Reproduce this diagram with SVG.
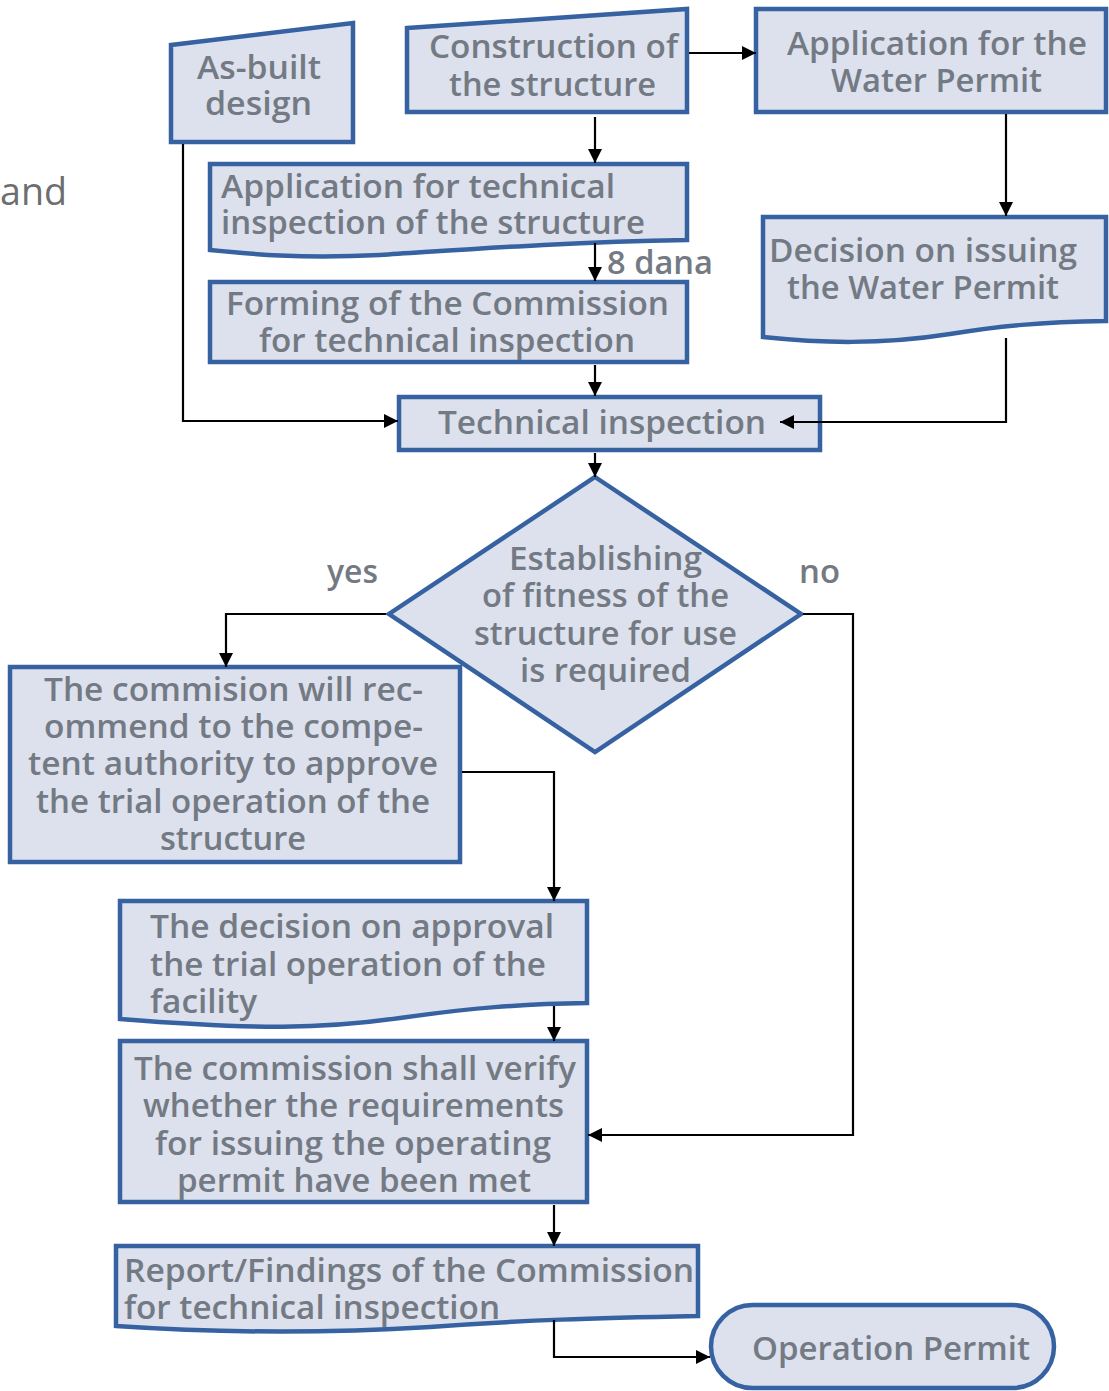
<svg xmlns="http://www.w3.org/2000/svg" width="1109" height="1391" viewBox="0 0 1109 1391">
<defs>
<style>
.n{fill:#dce1ed;stroke:#3662a1;stroke-width:4.5}
.t{font-family:"Open Sans","Liberation Sans",sans-serif;font-weight:600;font-size:33px;fill:#737a83}
.c{fill:none;stroke:#000;stroke-width:2.2}
</style>
<marker id="a" viewBox="0 0 14 14" refX="14" refY="7" markerWidth="14" markerHeight="14" markerUnits="userSpaceOnUse" orient="auto"><path d="M0,0 L14,7 L0,14 z" fill="#000"/></marker>
</defs>
<rect width="1109" height="1391" fill="#fff"/>
<text x="0" y="205" class="t" style="font-weight:400;font-size:38px;fill:#6d6e71" textLength="67" lengthAdjust="spacingAndGlyphs">and</text>
<g id="as-built">
<path class="n" d="M171,45 L353,23 V142 H171 Z"/>
<text x="197" y="79" class="t" textLength="124" lengthAdjust="spacingAndGlyphs">As-built</text>
<text x="205" y="115" class="t" textLength="107" lengthAdjust="spacingAndGlyphs">design</text>
</g>
<g id="construction">
<path class="n" d="M407,28 L687,9 V112 H407 Z"/>
<text x="429" y="58" class="t" textLength="249" lengthAdjust="spacingAndGlyphs">Construction of</text>
<text x="449" y="96" class="t" textLength="207" lengthAdjust="spacingAndGlyphs">the structure</text>
</g>
<g id="water-app">
<rect class="n" x="756" y="9" width="350" height="103"/>
<text x="787" y="55" class="t" textLength="300" lengthAdjust="spacingAndGlyphs">Application for the</text>
<text x="831" y="92" class="t" textLength="211" lengthAdjust="spacingAndGlyphs">Water Permit</text>
</g>
<g id="tech-app">
<path class="n" d="M210,164 H687 V240 C560,242 460,250 380,255 C300,259 250,254 210,250 Z"/>
<text x="221" y="198" class="t" textLength="394" lengthAdjust="spacingAndGlyphs">Application for technical</text>
<text x="221" y="234" class="t" textLength="424" lengthAdjust="spacingAndGlyphs">inspection of the structure</text>
</g>
<g id="forming">
<rect class="n" x="210" y="282" width="477" height="80"/>
<text x="226" y="315" class="t" textLength="443" lengthAdjust="spacingAndGlyphs">Forming of the Commission</text>
<text x="259" y="352" class="t" textLength="376" lengthAdjust="spacingAndGlyphs">for technical inspection</text>
</g>
<g id="water-decision">
<path class="n" d="M763,217 H1106 V321 C1040,322 1000,326 950,334 C880,345 820,343 763,337 Z"/>
<text x="769" y="262" class="t" textLength="308" lengthAdjust="spacingAndGlyphs">Decision on issuing</text>
<text x="787" y="299" class="t" textLength="272" lengthAdjust="spacingAndGlyphs">the Water Permit</text>
</g>
<g id="tech-inspection">
<rect class="n" x="399" y="397" width="421" height="53"/>
<text x="438" y="434" class="t" textLength="328" lengthAdjust="spacingAndGlyphs">Technical inspection</text>
</g>
<g id="decision">
<path class="n" d="M595,477 L801,614 L595,752 L389,614 Z"/>
<text x="509" y="570" class="t" textLength="193" lengthAdjust="spacingAndGlyphs">Establishing</text>
<text x="482" y="607" class="t" textLength="247" lengthAdjust="spacingAndGlyphs">of fitness of the</text>
<text x="474" y="645" class="t" textLength="263" lengthAdjust="spacingAndGlyphs">structure for use</text>
<text x="520" y="682" class="t" textLength="171" lengthAdjust="spacingAndGlyphs">is required</text>
</g>
<g id="recommend">
<rect class="n" x="10" y="667" width="450" height="195"/>
<text x="44" y="701" class="t" textLength="379" lengthAdjust="spacingAndGlyphs">The commision will rec-</text>
<text x="44" y="738" class="t" textLength="379" lengthAdjust="spacingAndGlyphs">ommend to the compe-</text>
<text x="28" y="775" class="t" textLength="410" lengthAdjust="spacingAndGlyphs">tent authority to approve</text>
<text x="36" y="813" class="t" textLength="394" lengthAdjust="spacingAndGlyphs">the trial operation of the</text>
<text x="160" y="850" class="t" textLength="146" lengthAdjust="spacingAndGlyphs">structure</text>
</g>
<g id="approval">
<path class="n" d="M120,901 H587 V1003 C520,1004 470,1008 400,1018 C320,1029 260,1030 120,1019 Z"/>
<text x="150" y="938" class="t" textLength="404" lengthAdjust="spacingAndGlyphs">The decision on approval</text>
<text x="150" y="976" class="t" textLength="396" lengthAdjust="spacingAndGlyphs">the trial operation of the</text>
<text x="150" y="1013" class="t" textLength="107" lengthAdjust="spacingAndGlyphs">facility</text>
</g>
<g id="verify">
<rect class="n" x="120" y="1041" width="467" height="161"/>
<text x="134" y="1080" class="t" textLength="442" lengthAdjust="spacingAndGlyphs">The commission shall verify</text>
<text x="143" y="1117" class="t" textLength="421" lengthAdjust="spacingAndGlyphs">whether the requirements</text>
<text x="155" y="1155" class="t" textLength="396" lengthAdjust="spacingAndGlyphs">for issuing the operating</text>
<text x="177" y="1192" class="t" textLength="354" lengthAdjust="spacingAndGlyphs">permit have been met</text>
</g>
<g id="report">
<path class="n" d="M116,1246 H698 V1316 C600,1318 520,1320 430,1327 C330,1333 220,1333 116,1326 Z"/>
<text x="124" y="1282" class="t" textLength="570" lengthAdjust="spacingAndGlyphs">Report/Findings of the Commission</text>
<text x="124" y="1319" class="t" textLength="376" lengthAdjust="spacingAndGlyphs">for technical inspection</text>
</g>
<g id="operation-permit">
<rect class="n" x="711" y="1305" width="343" height="83" rx="41.5"/>
<text x="752" y="1360" class="t" textLength="278" lengthAdjust="spacingAndGlyphs">Operation Permit</text>
</g>
<g id="connectors">
<path class="c" d="M689,53 H756" marker-end="url(#a)"/>
<path class="c" d="M595,117 V163" marker-end="url(#a)"/>
<path class="c" d="M595,243 V281" marker-end="url(#a)"/>
<path class="c" d="M595,365 V396" marker-end="url(#a)"/>
<path class="c" d="M183,144 V421 H398" marker-end="url(#a)"/>
<path class="c" d="M1006,114 V216" marker-end="url(#a)"/>
<path class="c" d="M1006,338 V422 H780" marker-end="url(#a)"/>
<path class="c" d="M595,453 V477" marker-end="url(#a)"/>
<path class="c" d="M386,614 H226 V667" marker-end="url(#a)"/>
<path class="c" d="M803,614 H853 V1135 H588" marker-end="url(#a)"/>
<path class="c" d="M462,772 H554 V901" marker-end="url(#a)"/>
<path class="c" d="M554,1006 V1041" marker-end="url(#a)"/>
<path class="c" d="M554,1205 V1246" marker-end="url(#a)"/>
<path class="c" d="M554,1320 V1357 H710" marker-end="url(#a)"/>
<text x="607" y="274" class="t" textLength="106" lengthAdjust="spacingAndGlyphs">8 dana</text>
<text x="327" y="583" class="t" textLength="51" lengthAdjust="spacingAndGlyphs">yes</text>
<text x="799" y="583" class="t" textLength="41" lengthAdjust="spacingAndGlyphs">no</text>
</g>
</svg>
